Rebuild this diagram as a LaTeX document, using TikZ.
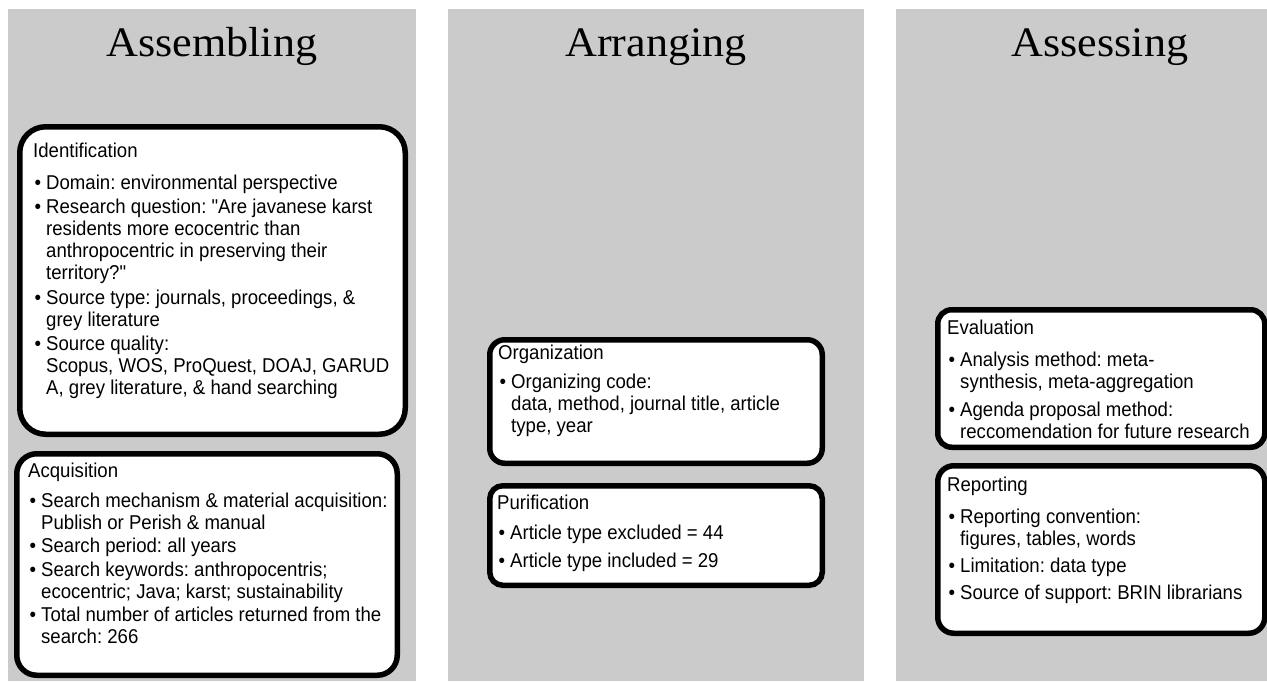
\documentclass[tikz,border=0pt]{standalone}
\usepackage{fontspec}
\usetikzlibrary{positioning}
\newfontfamily\stageserif[FakeStretch=1.05]{Liberation Serif}
\newfontfamily\panelsans[FakeStretch=0.93]{Liberation Sans}
\definecolor{colgray}{RGB}{203,203,203}
\newcommand{\bul}{\makebox[13pt][l]{\hspace{1.5pt}\textbullet}}
\newcommand{\cnt}{\hspace*{13pt}}
\frenchspacing
\tikzset{
  stage/.style={anchor=base, inner sep=0pt, font=\stageserif\fontsize{42}{48}\selectfont},
  panel/.style={draw=black, line width=5.5pt, fill=white, rounded corners=#1,
    anchor=north west, inner sep=0pt},
  entry/.style={anchor=base west, inner sep=0pt, align=left,
    font=\panelsans\fontsize{20}{22}\selectfont},
}
\begin{document}
\begin{tikzpicture}[x=1pt,y=-1pt]
  \useasboundingbox (0,0) rectangle (1267,681);
  % three stage columns
  \fill[colgray] (8,9) rectangle (416,681);
  \fill[colgray] (448,9) rectangle (864,681);
  \fill[colgray] (896,9) rectangle (1267,681);
  \node[stage] (assemble) at (212,56) {Assembling};
  \node[stage] (arrange) at (656,56) {Arranging};
  \node[stage] (assess) at (1100,56) {Assessing};

  % Assembling
  \node[panel=26pt, minimum width=385.5pt, minimum height=307.5pt] (ident) at (17,124) {};
  \node[entry] (identtxt) at ([shift={(16,33)}]ident.north west) {%
    \begin{tabular}[t]{@{}l@{}}
    Identification\\[10pt]
    \bul Domain: environmental perspective\\[2.5pt]
    \bul Research question: "Are javanese karst\\
    \cnt residents more ecocentric than\\
    \cnt anthropocentric in preserving their\\
    \cnt territory?"\\[2.5pt]
    \bul Source type: journals, proceedings, \&\\
    \cnt grey literature\\[2.5pt]
    \bul Source quality:\\
    \cnt Scopus, WOS, ProQuest, DOAJ, GARUD\\
    \cnt A, grey literature, \& hand searching
    \end{tabular}};
  \node[panel=20pt, minimum width=380.5pt, minimum height=221.5pt] (acq) at (14,451) {};
  \node[entry] (acqtxt) at ([shift={(14,26)}]acq.north west) {%
    \begin{tabular}[t]{@{}l@{}}
    Acquisition\\[8pt]
    \bul Search mechanism \& material acquisition:\\
    \cnt Publish or Perish \& manual\\[1.5pt]
    \bul Search period: all years\\[1.5pt]
    \bul Search keywords: anthropocentris;\\
    \cnt ecocentric; Java; karst; sustainability\\[1.5pt]
    \bul Total number of articles returned from the\\
    \cnt search: 266
    \end{tabular}};

  % Arranging
  \node[panel=15pt, minimum width=332.5pt, minimum height=123.5pt] (org) at (487,337) {};
  \node[entry] (orgtxt) at ([shift={(11,22)}]org.north west) {%
    \begin{tabular}[t]{@{}l@{}}
    Organization\\[7pt]
    \bul Organizing code:\\
    \cnt data, method, journal title, article\\
    \cnt type, year
    \end{tabular}};
  \node[panel=13pt, minimum width=332.5pt, minimum height=99.5pt] (pur) at (487,483) {};
  \node[entry] (purtxt) at ([shift={(10,26)}]pur.north west) {%
    \begin{tabular}[t]{@{}l@{}}
    Purification\\[8pt]
    \bul Article type excluded = 44\\[6pt]
    \bul Article type included = 29
    \end{tabular}};

  % Assessing
  \node[panel=14pt, minimum width=327pt, minimum height=137.5pt] (eval) at (935,307) {};
  \node[entry] (evaltxt) at ([shift={(12,27)}]eval.north west) {%
    \begin{tabular}[t]{@{}l@{}}
    Evaluation\\[10pt]
    \bul Analysis method: meta-\\
    \cnt synthesis, meta-aggregation\\[6pt]
    \bul Agenda proposal method:\\
    \cnt reccomendation for future research
    \end{tabular}};
  \node[panel=16pt, minimum width=327pt, minimum height=167.5pt] (rep) at (935,463) {};
  \node[entry] (reptxt) at ([shift={(12,28)}]rep.north west) {%
    \begin{tabular}[t]{@{}l@{}}
    Reporting\\[10pt]
    \bul Reporting convention:\\
    \cnt figures, tables, words\\[5pt]
    \bul Limitation: data type\\[5pt]
    \bul Source of support: BRIN librarians
    \end{tabular}};
\end{tikzpicture}
\end{document}
